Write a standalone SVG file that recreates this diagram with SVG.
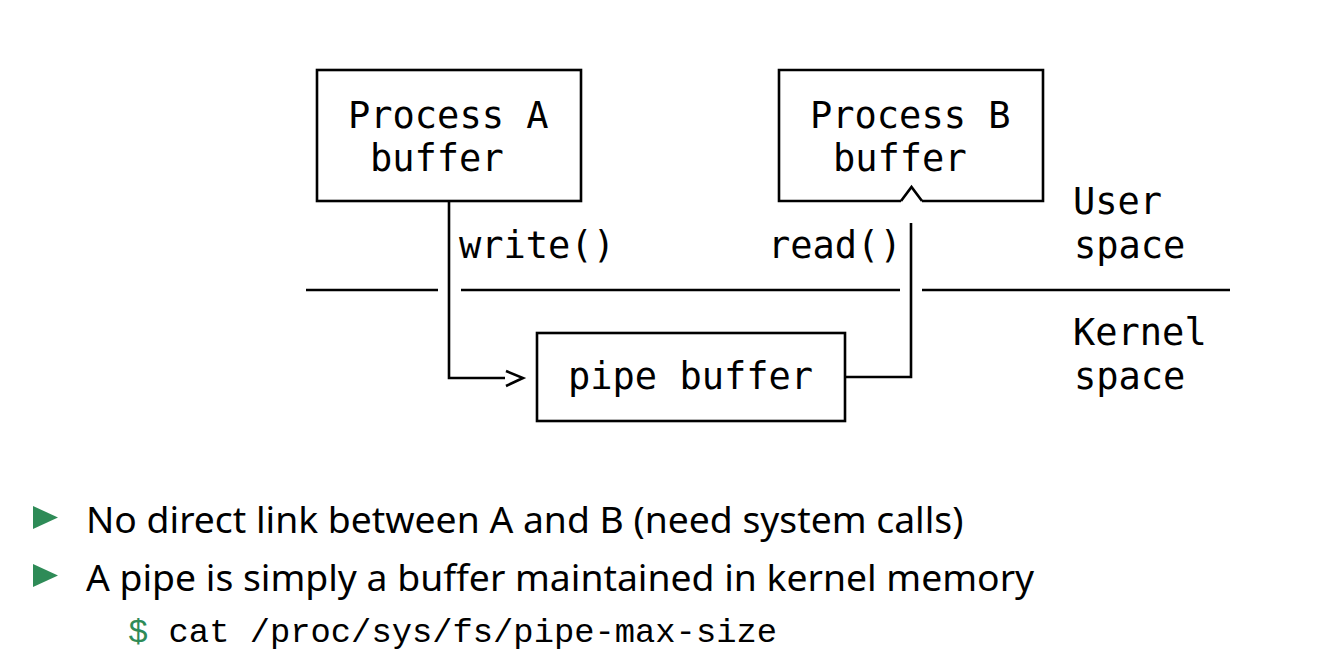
<svg xmlns="http://www.w3.org/2000/svg" width="1323" height="668" viewBox="0 0 1323 668">
<style>
.mono{font-family:"DejaVu Sans Mono",monospace;font-size:37px;fill:#000}
.ln{fill:none;stroke:#000;stroke-width:2.6;stroke-linecap:butt;stroke-linejoin:miter}
.body{font-family:"Noto Sans","Lato",sans-serif;font-size:37.3px;fill:#000}
.tt{font-family:"Liberation Mono",monospace;font-size:33.8px;fill:#000}
.bullet{fill:#2e8b57}
</style>
<rect width="1323" height="668" fill="#fff"/>
<g id="processA">
<rect class="ln" x="317" y="70" width="264" height="131"/>
<text class="mono" x="348" y="128">Process A</text>
<text class="mono" x="370" y="171">buffer</text>
</g>
<g id="processB">
<path class="ln" d="M901,201 H779 V70 H1043 V201 H922"/>
<text class="mono" x="810" y="128">Process B</text>
<text class="mono" x="833" y="171">buffer</text>
</g>
<g id="pipe">
<rect class="ln" x="537" y="333" width="308" height="88"/>
<text class="mono" x="568" y="389">pipe buffer</text>
</g>
<g id="divider">
<path class="ln" d="M306,290 H438 M461,290 H900 M922,290 H1230"/>
</g>
<g id="labels">
<text class="mono" x="1073" y="214">User</text>
<text class="mono" x="1074" y="258">space</text>
<text class="mono" x="1073" y="345">Kernel</text>
<text class="mono" x="1074" y="389">space</text>
</g>
<g id="connectors">
<path class="ln" d="M449,201 V378 H505"/>
<path class="ln" d="M506,371 L523,378 L506,386"/>
<text class="mono" x="459" y="258">write()</text>
<path class="ln" d="M845,377 H911 V223"/>
<path class="ln" d="M901,201 L911.5,187 L922,201"/>
<text class="mono" x="768" y="258">read()</text>
</g>
<g id="bullets">
<path class="bullet" d="M33,506 L58,517.5 L33,529 Z"/>
<text class="body" x="86" y="533">No direct link between A and B (need system calls)</text>
<path class="bullet" d="M33,564 L58,575.5 L33,587 Z"/>
<text class="body" x="86" y="591">A pipe is simply a buffer maintained in kernel memory</text>
<text class="tt" x="128" y="642"><tspan fill="#2e8b57">$</tspan> cat /proc/sys/fs/pipe-max-size</text>
</g>
</svg>
